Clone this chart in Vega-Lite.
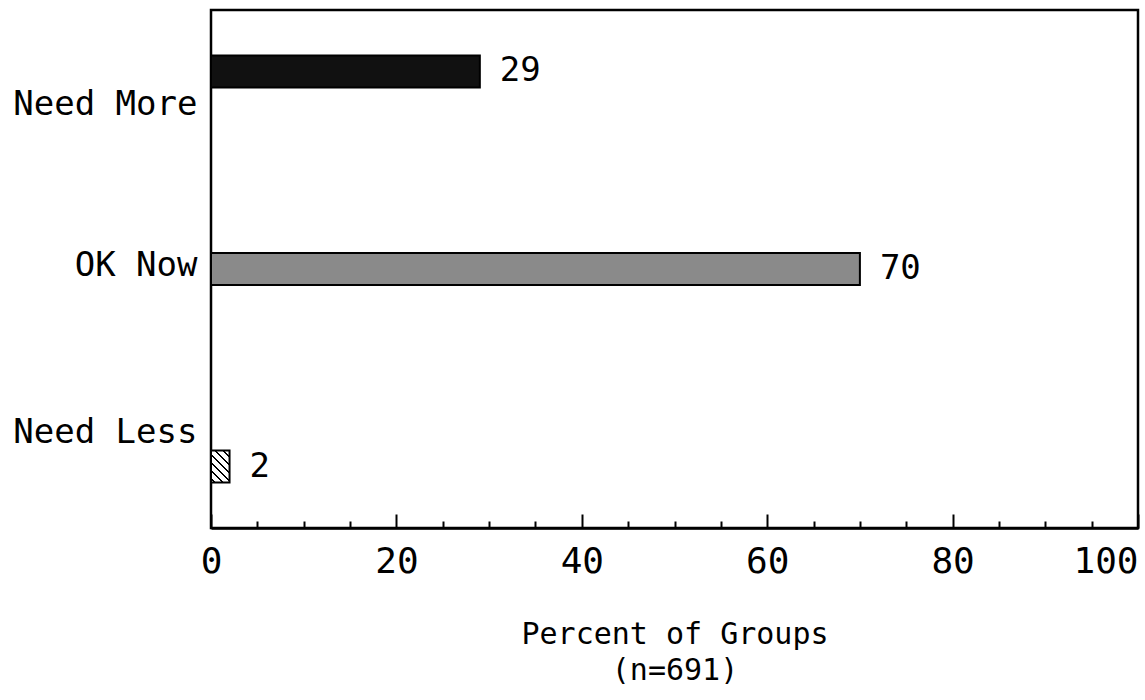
{
  "$schema": "https://vega.github.io/schema/vega-lite/v6.json",
  "width": 927,
  "height": 518,
  "autosize": {"type": "none"},
  "padding": {"left": 211, "top": 10, "right": 7, "bottom": 172},
  "background": "white",
  "config": {
    "view": {"stroke": "black", "strokeWidth": 2.5},
    "font": "DejaVu Sans Mono",
    "axis": {
      "domainColor": "black",
      "domainWidth": 2.5,
      "tickColor": "black",
      "labelColor": "black",
      "titleColor": "black",
      "labelFont": "DejaVu Sans Mono",
      "titleFont": "DejaVu Sans Mono",
      "grid": false
    }
  },
  "data": {
    "values": [
      {"response": "Need More", "percent": 29},
      {"response": "OK Now", "percent": 70},
      {"response": "Need Less", "percent": 2}
    ]
  },
  "resolve": {"axis": {"x": "independent"}},
  "encoding": {
    "y": {
      "field": "response",
      "type": "nominal",
      "sort": null,
      "scale": {"paddingInner": 0.838, "paddingOuter": 0.23},
      "axis": {
        "title": null,
        "ticks": false,
        "domain": false,
        "labelFontSize": 34,
        "labelPadding": 14,
        "labelLimit": 400,
        "labelOffset": {
          "condition": [
            {"test": "datum.value === 'Need More'", "value": 34},
            {"test": "datum.value === 'Need Less'", "value": -34}
          ],
          "value": -3
        }
      }
    }
  },
  "layer": [
    {
      "mark": {"type": "bar", "stroke": "black", "strokeWidth": 2},
      "encoding": {
        "x": {
          "field": "percent",
          "type": "quantitative",
          "scale": {"domain": [0, 100], "nice": false},
          "axis": {
            "values": [0, 20, 40, 60, 80, 100],
            "ticks": false,
            "labelFontSize": 36,
            "labelPadding": 16,
            "labelFlush": false,
            "labelOverlap": false,
            "labelAlign": {"condition": {"test": "datum.value === 100", "value": "right"}, "value": "center"},
            "title": ["Percent of Groups", "(n=691)"],
            "titleFontSize": 30,
            "titleFontWeight": "normal",
            "titleLineHeight": 36,
            "titlePadding": 40
          }
        },
        "fill": {
          "condition": {
            "test": "datum.response === 'Need Less'",
            "value": {
              "gradient": "linear",
              "x1": 0, "y1": 1, "x2": 0.684, "y2": -0.183,
              "stops": [
                {"offset": 0, "color": "white"},
                {"offset": 0.06, "color": "white"},
                {"offset": 0.06, "color": "black"},
                {"offset": 0.095, "color": "black"},
                {"offset": 0.095, "color": "white"},
                {"offset": 0.218, "color": "white"},
                {"offset": 0.218, "color": "black"},
                {"offset": 0.253, "color": "black"},
                {"offset": 0.253, "color": "white"},
                {"offset": 0.376, "color": "white"},
                {"offset": 0.376, "color": "black"},
                {"offset": 0.411, "color": "black"},
                {"offset": 0.411, "color": "white"},
                {"offset": 0.534, "color": "white"},
                {"offset": 0.534, "color": "black"},
                {"offset": 0.569, "color": "black"},
                {"offset": 0.569, "color": "white"},
                {"offset": 0.692, "color": "white"},
                {"offset": 0.692, "color": "black"},
                {"offset": 0.727, "color": "black"},
                {"offset": 0.727, "color": "white"},
                {"offset": 0.85, "color": "white"},
                {"offset": 0.85, "color": "black"},
                {"offset": 0.885, "color": "black"},
                {"offset": 0.885, "color": "white"},
                {"offset": 1, "color": "white"}
              ]
            }
          },
          "field": "response",
          "type": "nominal",
          "scale": {"domain": ["Need More", "OK Now", "Need Less"], "range": ["#111111", "#8a8a8a", "#b0b0b0"]},
          "legend": null
        }
      }
    },
    {
      "mark": {"type": "text", "align": "left", "dx": 20, "fontSize": 34, "baseline": "middle", "color": "black"},
      "encoding": {
        "x": {
          "field": "percent",
          "type": "quantitative",
          "scale": {"domain": [0, 100], "nice": false},
          "axis": {
            "orient": "top",
            "offset": -518,
            "values": [0, 5, 10, 15, 20, 25, 30, 35, 40, 45, 50, 55, 60, 65, 70, 75, 80, 85, 90, 95, 100],
            "labels": false,
            "domain": false,
            "title": null,
            "tickWidth": 2,
            "tickSize": {"condition": {"test": "datum.value % 20 === 0", "value": 14}, "value": 7}
          }
        },
        "text": {"field": "percent", "type": "quantitative"}
      }
    }
  ]
}
